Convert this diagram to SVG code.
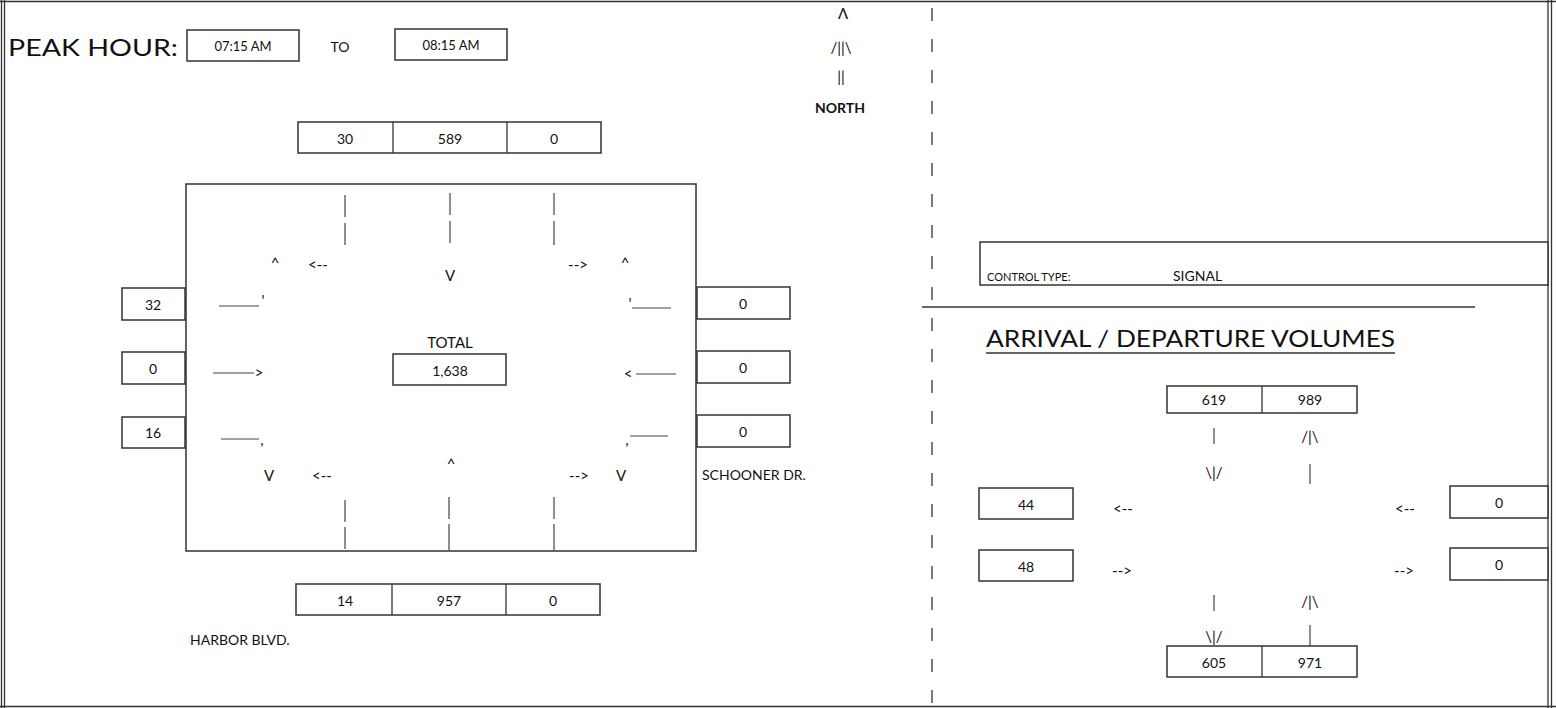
<svg xmlns="http://www.w3.org/2000/svg" width="1556" height="708" viewBox="0 0 1556 708">
<style>
  .t { font-family: Lato, "Open Sans", "Liberation Sans", sans-serif; fill: #111; }
  .n { font-size: 14px; text-anchor: middle; }
  .box { fill: #fff; stroke: #333; stroke-width: 1.5; }
  .ln { stroke: #333; stroke-width: 1.3; fill: none; }
  .tk { stroke: #444; stroke-width: 1.2; }
  .ar { font-size: 15px; text-anchor: middle; }
</style>
<rect width="1556" height="708" fill="#fff"/>
<!-- frame -->
<g id="frame" class="ln">
  <line x1="1.5" y1="0" x2="1.5" y2="708"/>
  <line x1="4.5" y1="0" x2="4.5" y2="708"/>
  <line x1="1548" y1="0" x2="1548" y2="708"/>
  <line x1="1551.5" y1="0" x2="1551.5" y2="708"/>
  <line x1="0" y1="1.5" x2="1556" y2="1.5"/>
  <line x1="0" y1="706.5" x2="1556" y2="706.5"/>
  <line x1="932" y1="8" x2="932" y2="708" stroke-dasharray="13,18"/>
  <line x1="922" y1="307" x2="1475" y2="307"/>
</g>
<!-- header -->
<g id="peak-hour">
  <text class="t" x="8" y="56" font-size="24" textLength="170" lengthAdjust="spacingAndGlyphs">PEAK HOUR:</text>
  <rect class="box" x="187" y="30" width="112" height="31"/>
  <text class="t" x="243" y="51" font-size="13" text-anchor="middle">07:15 AM</text>
  <text class="t" x="340" y="52" font-size="14" text-anchor="middle">TO</text>
  <rect class="box" x="395" y="29" width="112" height="31"/>
  <text class="t" x="451" y="50" font-size="13" text-anchor="middle">08:15 AM</text>
</g>
<g id="north-arrow">
  <text class="t ar" x="843" y="19" font-size="13">Λ</text>
  <text class="t ar" x="841" y="53" font-size="13">/||\</text>
  <text class="t ar" x="841" y="82" font-size="13">||</text>
  <text class="t" x="840" y="113" font-size="14" text-anchor="middle" font-weight="bold">NORTH</text>
</g>
<!-- north approach -->
<g id="north-approach">
  <rect class="box" x="298" y="122" width="303" height="31"/>
  <line class="ln" x1="393" y1="122" x2="393" y2="153"/>
  <line class="ln" x1="507" y1="122" x2="507" y2="153"/>
  <text class="t n" x="345" y="144">30</text>
  <text class="t n" x="450" y="144">589</text>
  <text class="t n" x="554" y="144">0</text>
</g>
<!-- intersection -->
<g id="intersection">
  <rect class="box" x="186" y="184" width="510" height="367"/>
  <text class="t" x="450" y="348" font-size="15" text-anchor="middle">TOTAL</text>
  <rect class="box" x="393" y="354" width="113" height="31"/>
  <text class="t n" x="450" y="376">1,638</text>
</g>
<g id="west-approach">
  <rect class="box" x="122" y="288" width="63" height="32"/>
  <text class="t n" x="153" y="310">32</text>
  <rect class="box" x="122" y="352" width="63" height="32"/>
  <text class="t n" x="153" y="374">0</text>
  <rect class="box" x="122" y="417" width="63" height="31"/>
  <text class="t n" x="153" y="438">16</text>
</g>
<g id="east-approach">
  <rect class="box" x="697" y="287" width="93" height="32"/>
  <text class="t n" x="743" y="309">0</text>
  <rect class="box" x="697" y="351" width="93" height="32"/>
  <text class="t n" x="743" y="373">0</text>
  <rect class="box" x="697" y="415" width="93" height="32"/>
  <text class="t n" x="743" y="437">0</text>
  <text class="t" x="702" y="480" font-size="14">SCHOONER DR.</text>
</g>
<g id="south-approach">
  <rect class="box" x="296" y="584" width="304" height="31"/>
  <line class="ln" x1="392" y1="584" x2="392" y2="615"/>
  <line class="ln" x1="506" y1="584" x2="506" y2="615"/>
  <text class="t n" x="345" y="606">14</text>
  <text class="t n" x="449" y="606">957</text>
  <text class="t n" x="553" y="606">0</text>
  <text class="t" x="190" y="645" font-size="14">HARBOR BLVD.</text>
</g>
<!-- movement arrows -->
<g id="connectors">
  <g class="tk">
    <line x1="345" y1="195" x2="345" y2="217"/><line x1="345" y1="223" x2="345" y2="245"/>
    <line x1="450" y1="193" x2="450" y2="215"/><line x1="450" y1="221" x2="450" y2="243"/>
    <line x1="554" y1="193" x2="554" y2="215"/><line x1="554" y1="221" x2="554" y2="245"/>
    <line x1="345" y1="500" x2="345" y2="522"/><line x1="345" y1="527" x2="345" y2="549"/>
    <line x1="449" y1="497" x2="449" y2="519"/><line x1="449" y1="524" x2="449" y2="550"/>
    <line x1="554" y1="497" x2="554" y2="519"/><line x1="554" y1="524" x2="554" y2="550"/>
    <line x1="219" y1="306" x2="259" y2="306"/>
    <line x1="632" y1="308" x2="671" y2="308"/>
    <line x1="213" y1="373" x2="254" y2="373"/>
    <line x1="636" y1="374" x2="676" y2="374"/>
    <line x1="221" y1="439" x2="259" y2="439"/>
    <line x1="630" y1="436" x2="668" y2="436"/>
  </g>
  <text class="t ar" x="263" y="306" font-size="9">'</text>
  <text class="t ar" x="630" y="309" font-size="9">'</text>
  <text class="t ar" x="259" y="378">&gt;</text>
  <text class="t ar" x="628" y="379">&lt;</text>
  <text class="t ar" x="262" y="445" font-size="10">,</text>
  <text class="t ar" x="627" y="445" font-size="10">,</text>
  <text class="t ar" x="275" y="268">^</text>
  <text class="t ar" x="318" y="270">&lt;--</text>
  <text class="t ar" x="450" y="281">V</text>
  <text class="t ar" x="578" y="270">--&gt;</text>
  <text class="t ar" x="625" y="268">^</text>
  <text class="t ar" x="269" y="481">V</text>
  <text class="t ar" x="322" y="481">&lt;--</text>
  <text class="t ar" x="451" y="469">^</text>
  <text class="t ar" x="579" y="481">--&gt;</text>
  <text class="t ar" x="621" y="481">V</text>
</g>
<!-- right panel -->
<g id="control-type">
  <rect class="box" x="980" y="242" width="568" height="43"/>
  <text class="t" x="987" y="281" font-size="11">CONTROL TYPE:</text>
  <text class="t" x="1173" y="281" font-size="14">SIGNAL</text>
</g>
<g id="arrival-departure-title">
  <text class="t" x="986" y="347" font-size="24" textLength="409" lengthAdjust="spacingAndGlyphs">ARRIVAL / DEPARTURE  VOLUMES</text>
  <line class="ln" x1="986" y1="353" x2="1395" y2="353"/>
</g>
<g id="north-volumes">
  <rect class="box" x="1167" y="386" width="190" height="27"/>
  <line class="ln" x1="1262" y1="386" x2="1262" y2="413"/>
  <text class="t n" x="1214" y="405">619</text>
  <text class="t n" x="1310" y="405">989</text>
</g>
<g id="west-volumes">
  <rect class="box" x="979" y="488" width="94" height="31"/>
  <text class="t n" x="1026" y="510">44</text>
  <rect class="box" x="979" y="550" width="94" height="31"/>
  <text class="t n" x="1026" y="572">48</text>
</g>
<g id="east-volumes">
  <rect class="box" x="1450" y="486" width="98" height="32"/>
  <text class="t n" x="1499" y="508">0</text>
  <rect class="box" x="1450" y="548" width="98" height="32"/>
  <text class="t n" x="1499" y="570">0</text>
</g>
<g id="south-volumes">
  <rect class="box" x="1167" y="646" width="190" height="31"/>
  <line class="ln" x1="1262" y1="646" x2="1262" y2="677"/>
  <text class="t n" x="1214" y="668">605</text>
  <text class="t n" x="1310" y="668">971</text>
</g>
<g id="volume-connectors">
  <g class="tk">
    <line x1="1214" y1="428" x2="1214" y2="444"/>
    <line x1="1310" y1="464" x2="1310" y2="484"/>
    <line x1="1214" y1="595" x2="1214" y2="611"/>
    <line x1="1310" y1="625" x2="1310" y2="646"/>
  </g>
  <text class="t ar" x="1310" y="442" font-size="13">/|\</text>
  <text class="t ar" x="1214" y="478" font-size="13">\|/</text>
  <text class="t ar" x="1310" y="607" font-size="13">/|\</text>
  <text class="t ar" x="1214" y="642" font-size="13">\|/</text>
  <text class="t ar" x="1123" y="514">&lt;--</text>
  <text class="t ar" x="1405" y="514">&lt;--</text>
  <text class="t ar" x="1122" y="576">--&gt;</text>
  <text class="t ar" x="1404" y="576">--&gt;</text>
</g>
</svg>
